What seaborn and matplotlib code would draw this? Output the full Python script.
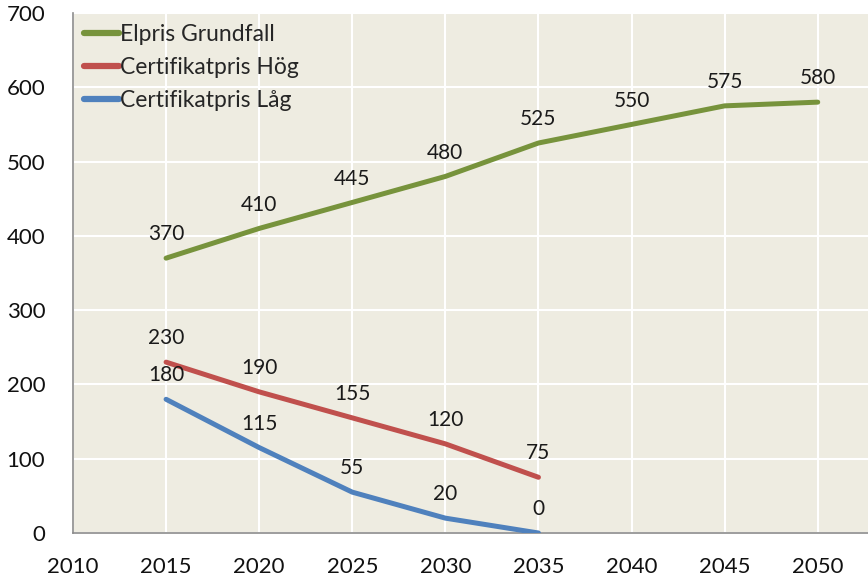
import matplotlib
matplotlib.use("Agg")
import matplotlib.pyplot as plt
import seaborn as sns
import pandas as pd

years_grund = [2015, 2020, 2025, 2030, 2035, 2040, 2045, 2050]
elpris_grundfall = [370, 410, 445, 480, 525, 550, 575, 580]
years_cert = [2015, 2020, 2025, 2030, 2035]
cert_hog = [230, 190, 155, 120, 75]
cert_lag = [180, 115, 55, 20, 0]
series_names = ["Elpris Grundfall", "Certifikatpris Hög", "Certifikatpris Låg"]
x_ticks = [2010, 2015, 2020, 2025, 2030, 2035, 2040, 2045, 2050]
y_ticks = [0, 100, 200, 300, 400, 500, 600, 700]

rows = []
for y, v in zip(years_grund, elpris_grundfall):
    rows.append((y, v, series_names[0]))
for y, v in zip(years_cert, cert_hog):
    rows.append((y, v, series_names[1]))
for y, v in zip(years_cert, cert_lag):
    rows.append((y, v, series_names[2]))
df = pd.DataFrame(rows, columns=["year", "value", "series"])

sns.set_style("white")
plt.rcParams['font.family'] = ['Lato', 'DejaVu Sans']
colors = {series_names[0]: "#77933C", series_names[1]: "#C0504D", series_names[2]: "#4F81BD"}

fig = plt.figure(figsize=(8.68, 5.82), dpi=100)
ax = fig.add_axes([73/868, 1-533/582, 1-73/868, (533-13)/582])
ax.set_facecolor("#EEECE1")

sns.lineplot(data=df, x="year", y="value", hue="series", palette=colors,
             hue_order=series_names, linewidth=3.6, ax=ax, legend=True, zorder=3)

for _, r in df.iterrows():
    ax.annotate(f"{int(r.value)}", (r.year, r.value), xytext=(0, 10),
                textcoords="offset points", ha="center", va="bottom",
                fontsize=15, color="#1a1a1a", zorder=4)

ax.set_xlim(2010, 2052.7)
ax.set_ylim(0, 700)
ax.set_xticks(x_ticks)
ax.set_yticks(y_ticks)
ax.grid(True, color="white", linewidth=1.5, zorder=0)
ax.set_axisbelow(True)
ax.tick_params(axis="x", length=0, pad=17, labelsize=16, labelcolor="#111111")
ax.tick_params(axis="y", length=0, pad=20, labelsize=16, labelcolor="#111111")
ax.set_xlabel("")
ax.set_ylabel("")
for s in ["top", "right"]:
    ax.spines[s].set_visible(False)
for s in ["left", "bottom"]:
    ax.spines[s].set_color("#8c8c8c")
    ax.spines[s].set_linewidth(1.2)

leg = ax.legend(loc="upper left", frameon=False, fontsize=16.5, handlelength=1.5,
                handletextpad=0.05, labelspacing=0.52, borderaxespad=0.2,
                borderpad=0.3, bbox_to_anchor=(0.0, 1.0))
for line in leg.get_lines():
    line.set_linewidth(4.5)

fig.savefig("out.png", dpi=100, facecolor="white")
